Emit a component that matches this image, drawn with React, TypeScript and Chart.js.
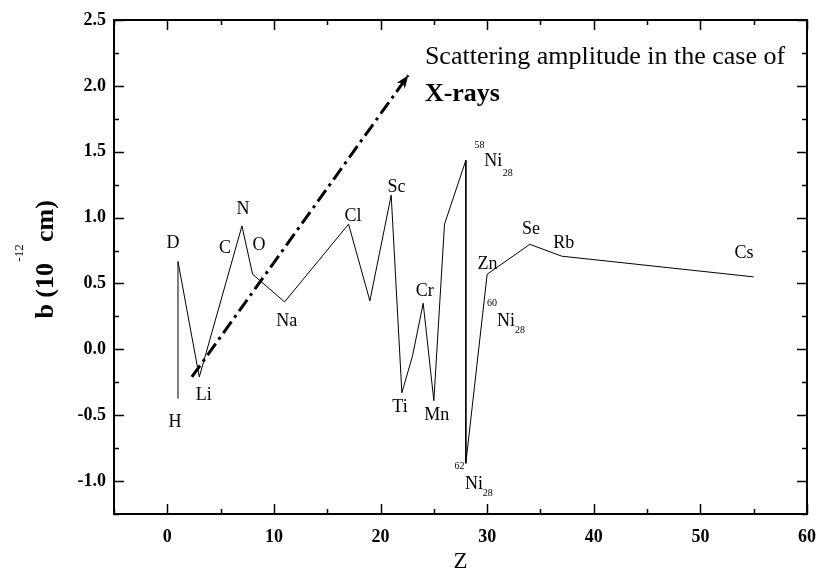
import React, { useEffect, useRef } from "react";
import { Chart, registerables } from "chart.js";

Chart.register(...registerables);

// Main curve: atomic number Z vs neutron scattering length b (10^-12 cm)
const zValues = [1, 1, 3, 7, 8, 11, 17, 19, 21, 22, 23, 24, 25, 26, 28, 28, 30, 34, 37, 55];
const bValues = [-0.374, 0.667, -0.21, 0.936, 0.57, 0.36, 0.95, 0.368, 1.17, -0.33, -0.05, 0.35, -0.39, 0.95, 1.435, -0.865, 0.57, 0.797, 0.707, 0.55];

// X-ray trend arrow (dash-dot)
const arrowZ = [2.3, 22.6];
const arrowB = [-0.21, 2.08];

// Axis ticks
const xTicks = [0, 10, 20, 30, 40, 50, 60];
const xMinorTicks = [-5, 5, 15, 25, 35, 45, 55];
const yTicks = [-1.0, -0.5, 0.0, 0.5, 1.0, 1.5, 2.0, 2.5];
const yMinorTicks = [-1.25, -0.75, -0.25, 0.25, 0.75, 1.25, 1.75, 2.25];

// Element labels (placed in data coordinates)
const elementNames = ["D", "H", "Li", "C", "N", "O", "Na", "Cl", "Sc", "Ti", "Cr", "Mn", "Zn", "Se", "Rb", "Cs"];
const elementLabelZ = [0.53, 0.72, 3.41, 5.41, 7.1, 8.6, 11.2, 17.42, 21.5, 21.83, 24.14, 25.27, 30.03, 34.11, 37.18, 54.09];
const elementLabelB = [0.807, -0.556, -0.347, 0.769, 1.061, 0.792, 0.215, 1.012, 1.228, -0.442, 0.443, -0.499, 0.644, 0.908, 0.805, 0.731];

// Nickel isotope labels: mass number, symbol, atomic number subscript
const isotopeMass = ["58", "60", "62"];
const isotopeMassZ = [29.28, 30.45, 27.41];
const isotopeMassB = [1.551, 0.351, -0.888];
const isotopeSymbolZ = [30.58, 31.77, 28.77];
const isotopeSymbolB = [1.424, 0.21, -1.023];
const isotopeSubZ = [31.93, 33.08, 30.05];
const isotopeSubB = [1.333, 0.147, -1.091];
const isotopeSymbol = "Ni";
const isotopeSub = "28";

const noteLine1 = "Scattering amplitude in the case of";
const noteLine2 = "X-rays";
const noteZ = 24.16;
const noteLine1B = 2.165;
const noteLine2B = 1.885;

const xTitle = "Z";
const yTitleMain = "b (10";
const yTitleUnit = "cm)";
const yTitleExp = "-12";

const SERIF = "'Liberation Serif', 'Times New Roman', serif";

const overlayPlugin = {
  id: "overlay",
  afterDraw(chart: any) {
    const { ctx, chartArea: ca } = chart;
    const xs = chart.scales.x;
    const ys = chart.scales.y;
    ctx.save();
    ctx.strokeStyle = "#000";
    ctx.fillStyle = "#000";

    // inward ticks on all four sides
    ctx.lineWidth = 1.5;
    const major = 10;
    const minor = 5;
    const vt = (v: number, len: number) => {
      const px = Math.round(xs.getPixelForValue(v)) + 0.5;
      ctx.beginPath();
      ctx.moveTo(px, ca.bottom);
      ctx.lineTo(px, ca.bottom - len);
      ctx.moveTo(px, ca.top);
      ctx.lineTo(px, ca.top + len);
      ctx.stroke();
    };
    const ht = (v: number, len: number) => {
      const py = Math.round(ys.getPixelForValue(v)) + 0.5;
      ctx.beginPath();
      ctx.moveTo(ca.left, py);
      ctx.lineTo(ca.left + len, py);
      ctx.moveTo(ca.right, py);
      ctx.lineTo(ca.right - len, py);
      ctx.stroke();
    };
    xTicks.forEach((v) => vt(v, major));
    xMinorTicks.forEach((v) => vt(v, minor));
    yTicks.forEach((v) => ht(v, major));
    yMinorTicks.forEach((v) => ht(v, minor));

    // frame
    ctx.lineWidth = 2;
    ctx.strokeRect(ca.left, ca.top, ca.right - ca.left, ca.bottom - ca.top);

    // arrow head
    const x0 = xs.getPixelForValue(arrowZ[0]);
    const y0 = ys.getPixelForValue(arrowB[0]);
    const x1 = xs.getPixelForValue(arrowZ[1]);
    const y1 = ys.getPixelForValue(arrowB[1]);
    const ang = Math.atan2(y1 - y0, x1 - x0);
    const hl = 13;
    const hw = 5;
    ctx.beginPath();
    ctx.moveTo(x1, y1);
    ctx.lineTo(x1 - hl * Math.cos(ang) + hw * Math.sin(ang), y1 - hl * Math.sin(ang) - hw * Math.cos(ang));
    ctx.lineTo(x1 - hl * 0.7 * Math.cos(ang), y1 - hl * 0.7 * Math.sin(ang));
    ctx.lineTo(x1 - hl * Math.cos(ang) - hw * Math.sin(ang), y1 - hl * Math.sin(ang) + hw * Math.cos(ang));
    ctx.closePath();
    ctx.fill();

    // element labels
    ctx.textAlign = "center";
    ctx.textBaseline = "middle";
    ctx.font = `18px ${SERIF}`;
    elementNames.forEach((n, i) => {
      ctx.fillText(n, xs.getPixelForValue(elementLabelZ[i]), ys.getPixelForValue(elementLabelB[i]));
    });
    // isotope labels
    isotopeMass.forEach((m, i) => {
      ctx.font = `10px ${SERIF}`;
      ctx.fillText(m, xs.getPixelForValue(isotopeMassZ[i]), ys.getPixelForValue(isotopeMassB[i]));
      ctx.font = `18px ${SERIF}`;
      ctx.fillText(isotopeSymbol, xs.getPixelForValue(isotopeSymbolZ[i]), ys.getPixelForValue(isotopeSymbolB[i]));
      ctx.font = `10px ${SERIF}`;
      ctx.fillText(isotopeSub, xs.getPixelForValue(isotopeSubZ[i]), ys.getPixelForValue(isotopeSubB[i]));
    });

    // note text
    ctx.textAlign = "left";
    ctx.textBaseline = "alphabetic";
    ctx.font = `26px ${SERIF}`;
    ctx.fillText(noteLine1, xs.getPixelForValue(noteZ), ys.getPixelForValue(noteLine1B));
    ctx.font = `bold 26px ${SERIF}`;
    ctx.fillText(noteLine2, xs.getPixelForValue(noteZ), ys.getPixelForValue(noteLine2B));

    // x title
    ctx.textAlign = "center";
    ctx.textBaseline = "middle";
    ctx.font = `23px ${SERIF}`;
    ctx.fillText(xTitle, (ca.left + ca.right) / 2, 562);

    // y title (rotated)
    ctx.save();
    ctx.translate(53, 0);
    ctx.rotate(-Math.PI / 2);
    ctx.textBaseline = "alphabetic";
    ctx.font = `bold 26px ${SERIF}`;
    ctx.textAlign = "right";
    ctx.fillText(yTitleMain, -263, 0);
    ctx.textAlign = "left";
    ctx.fillText(yTitleUnit, -242, 0);
    ctx.restore();
    ctx.save();
    ctx.translate(23, 0);
    ctx.rotate(-Math.PI / 2);
    ctx.textBaseline = "alphabetic";
    ctx.textAlign = "center";
    ctx.font = `13px ${SERIF}`;
    ctx.fillText(yTitleExp, -253, 0);
    ctx.restore();

    ctx.restore();
  },
};

export default function App() {
  const canvasRef = useRef<HTMLCanvasElement | null>(null);

  useEffect(() => {
    const canvas = canvasRef.current;
    if (!canvas) return;
    const tickFont = { family: SERIF, size: 18, weight: "bold" as const };
    const chart = new Chart(canvas, {
      type: "scatter",
      data: {
        datasets: [
          {
            data: zValues.map((z, i) => ({ x: z, y: bValues[i] })),
            showLine: true,
            borderColor: "#000",
            borderWidth: 1,
            pointRadius: 0,
            tension: 0,
            fill: false,
          },
          {
            data: arrowZ.map((z, i) => ({ x: z, y: arrowB[i] })),
            showLine: true,
            borderColor: "#000",
            borderWidth: 3,
            borderDash: [14, 5, 3, 5],
            pointRadius: 0,
            tension: 0,
            fill: false,
          },
        ],
      },
      options: {
        animation: false,
        responsive: false,
        devicePixelRatio: 1,
        layout: { padding: { top: 20, right: 13, left: 0, bottom: 0 } },
        plugins: { legend: { display: false }, tooltip: { enabled: false } },
        scales: {
          x: {
            type: "linear",
            min: -5,
            max: 60,
            grid: { display: false, drawTicks: false },
            border: { display: false },
            afterBuildTicks: (s: any) => {
              s.ticks = xTicks.map((v) => ({ value: v }));
            },
            afterFit: (s: any) => {
              s.height = 61;
              s.paddingLeft = 0;
              s.paddingRight = 0;
            },
            ticks: { font: tickFont, color: "#000", padding: 13, maxRotation: 0, autoSkip: false },
          },
          y: {
            type: "linear",
            min: -1.25,
            max: 2.5,
            grid: { display: false, drawTicks: false },
            border: { display: false },
            afterBuildTicks: (s: any) => {
              s.ticks = yTicks.map((v) => ({ value: v }));
            },
            afterFit: (s: any) => {
              s.width = 114;
              s.paddingTop = 0;
              s.paddingBottom = 0;
            },
            ticks: {
              font: tickFont,
              color: "#000",
              padding: 8,
              autoSkip: false,
              callback: (v: any) => Number(v).toFixed(1),
            },
          },
        },
      },
      plugins: [overlayPlugin],
    });
    return () => chart.destroy();
  }, []);

  return (
    <div style={{ position: "absolute", left: 0, top: 0, width: 820, height: 575, background: "#fff" }}>
      <canvas ref={canvasRef} width={820} height={575} style={{ width: 820, height: 575 }} />
    </div>
  );
}
